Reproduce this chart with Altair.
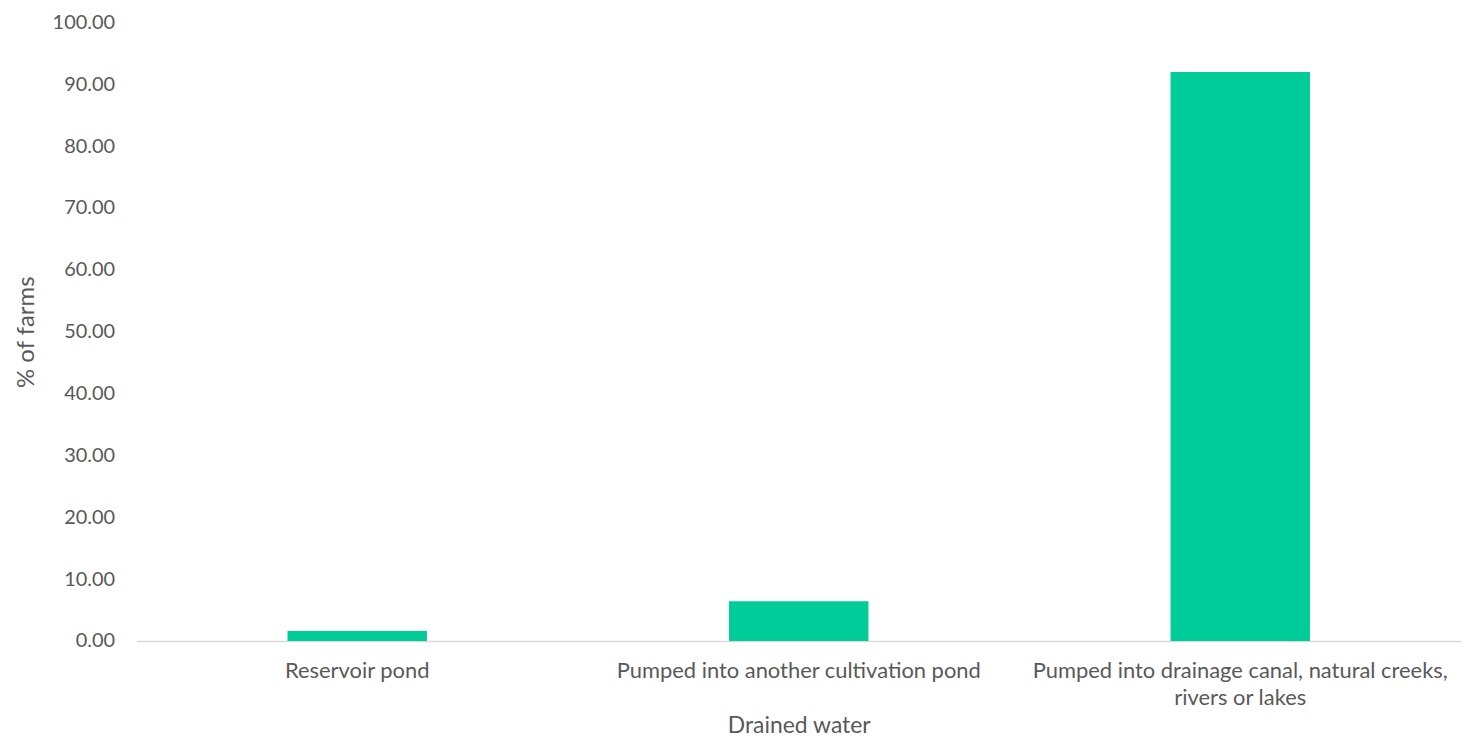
import altair as alt
import pandas as pd

categories = [
    "Reservoir pond",
    "Pumped into another cultivation pond",
    "Pumped into drainage canal, natural creeks, rivers or lakes",
]
values = [1.6, 6.4, 92.0]

df = pd.DataFrame({"cat": categories, "val": values})

FONT = "Lato"
GREY = "#595959"

label_expr = (
    "datum.value == 'Pumped into drainage canal, natural creeks, rivers or lakes' ? "
    "['Pumped into drainage canal, natural creeks,', 'rivers or lakes'] : datum.label"
)

chart = (
    alt.Chart(df)
    .mark_bar(color="#00CC99", width=140)
    .encode(
        x=alt.X(
            "cat:N",
            sort=categories,
            scale=alt.Scale(paddingInner=0, paddingOuter=0),
            axis=alt.Axis(
                title="Drained water",
                labelAngle=0,
                labelExpr=label_expr,
                labelFont=FONT,
                labelFontSize=22,
                labelColor=GREY,
                labelPadding=20,
                labelLineHeight=27,
                ticks=False,
                domainColor="#D9D9D9",
                domainWidth=1.5,
                titleFont=FONT,
                titleFontSize=23,
                titleFontWeight="normal",
                titleColor=GREY,
                titlePadding=6,
                labelLimit=600,
            ),
        ),
        y=alt.Y(
            "val:Q",
            scale=alt.Scale(domain=[0, 100], nice=False),
            axis=alt.Axis(
                title="% of farms",
                values=list(range(0, 101, 10)),
                format=".2f",
                grid=False,
                domain=False,
                ticks=False,
                labelFont=FONT,
                labelFontSize=20,
                labelColor=GREY,
                labelPadding=22,
                titleFont=FONT,
                titleFontSize=24,
                titleFontWeight="normal",
                titleColor=GREY,
                titlePadding=14,
            ),
        ),
    )
    .properties(
        width=1330,
        height=621,
        autosize=alt.AutoSizeParams(type="none"),
        padding={"left": 129, "top": 13, "right": 0, "bottom": 98},
    )
    .configure_view(stroke=None)
)

chart.save("out.html", embed_options={"renderer": "svg", "actions": False})
